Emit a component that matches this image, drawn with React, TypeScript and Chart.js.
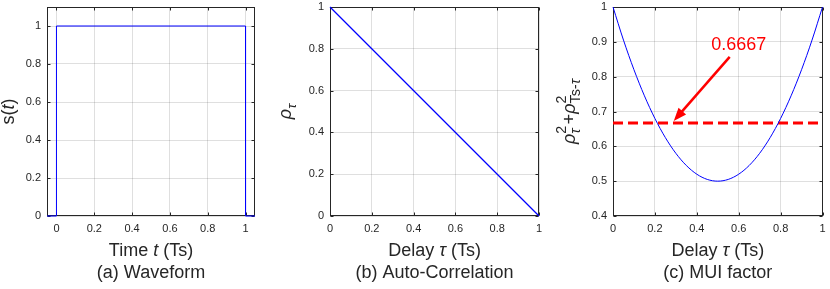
import React, { useEffect, useRef } from "react";
import { Chart, registerables } from "chart.js";

Chart.register(...registerables);

// ---------------- data ----------------
const waveT = [-0.05, 0, 0, 1, 1, 1.05];
const waveS = [0, 0, 1, 1, 0, 0];

const acTau = [0, 1];
const acRho = [1, 0];

const muiTau = [0, 0.05, 0.1, 0.15, 0.2, 0.25, 0.3, 0.35, 0.4, 0.45, 0.5, 0.55, 0.6, 0.65, 0.7, 0.75, 0.8, 0.85, 0.9, 0.95, 1];
const muiVal = [1, 0.905, 0.82, 0.745, 0.68, 0.625, 0.58, 0.545, 0.52, 0.505, 0.5, 0.505, 0.52, 0.545, 0.58, 0.625, 0.68, 0.745, 0.82, 0.905, 1];

const thresholdX = [0, 1];
const thresholdY = [0.6667, 0.6667];
const thresholdLabel = "0.6667";
const arrowTail = [0.557, 0.857];
const arrowTip = [0.29, 0.673];
const labelAt = [0.6, 0.891];

const ticks01 = [0, 0.2, 0.4, 0.6, 0.8, 1];
const ticksMui = [0.4, 0.5, 0.6, 0.7, 0.8, 0.9, 1];

const subtitles = ["(a) Waveform", "(b) Auto-Correlation", "(c) MUI factor"];

// ---------------- styling ----------------
const FONT = "'Liberation Sans', Arial, Helvetica, sans-serif";
const AXIS = "#262626";
const GRID = "rgba(38,38,38,0.15)";
const BLUE = "#0000ff";
const RED = "#ff0000";
const H = 289;
const PLOT_TOP = 7;
const PLOT_BOTTOM = 216;

type Seg = { t: string; italic?: boolean; scale?: number; dy?: number; stack?: boolean };

function segFont(s: Seg, size: number) {
  const sz = size * (s.scale ?? 1);
  return `${s.italic ? "italic " : ""}${sz}px ${FONT}`;
}

function measureRich(ctx: CanvasRenderingContext2D, segs: Seg[], size: number) {
  let w = 0;
  let pending = 0;
  for (const s of segs) {
    ctx.font = segFont(s, size);
    const sw = ctx.measureText(s.t).width;
    if (s.stack) {
      pending = Math.max(pending, sw);
    } else {
      w += Math.max(sw, pending);
      pending = 0;
    }
  }
  return w + pending;
}

function drawRich(ctx: CanvasRenderingContext2D, segs: Seg[], size: number, cx: number, baseline: number, rotate: boolean) {
  ctx.save();
  ctx.fillStyle = AXIS;
  ctx.textBaseline = "alphabetic";
  ctx.textAlign = "left";
  const total = measureRich(ctx, segs, size);
  if (rotate) {
    ctx.translate(baseline, cx);
    ctx.rotate(-Math.PI / 2);
  } else {
    ctx.translate(cx, baseline);
  }
  let x = -total / 2;
  let pending = 0;
  for (const s of segs) {
    ctx.font = segFont(s, size);
    const sw = ctx.measureText(s.t).width;
    ctx.fillText(s.t, x, s.dy ?? 0);
    if (s.stack) {
      pending = Math.max(pending, sw);
    } else {
      x += Math.max(sw, pending);
      pending = 0;
    }
  }
  ctx.restore();
}

type PanelOpts = {
  xTitle: Seg[];
  yTitle: Seg[];
  subtitle: string;
  yTitleBaseline: number;
  xTicks: number[];
  yTicks: number[];
};

const framePlugin = {
  id: "matlabFrame",
  beforeDatasetsDraw(chart: any) {
    const { ctx, chartArea } = chart;
    const o: PanelOpts = chart.options.plugins.matlabFrame;
    const l = Math.round(chartArea.left) + 0.5;
    const r = Math.round(chartArea.right) - 0.5;
    const t = Math.round(chartArea.top) + 0.5;
    const b = Math.round(chartArea.bottom) - 0.5;
    ctx.save();
    ctx.strokeStyle = AXIS;
    ctx.lineWidth = 1;
    ctx.strokeRect(l, t, r - l, b - t);
    const tl = 3;
    ctx.beginPath();
    for (const v of o.xTicks) {
      const px = Math.round(chart.scales.x.getPixelForValue(v)) + 0.5;
      ctx.moveTo(px, b);
      ctx.lineTo(px, b - tl);
      ctx.moveTo(px, t);
      ctx.lineTo(px, t + tl);
    }
    for (const v of o.yTicks) {
      const py = Math.round(chart.scales.y.getPixelForValue(v)) + 0.5;
      ctx.moveTo(l, py);
      ctx.lineTo(l + tl, py);
      ctx.moveTo(r, py);
      ctx.lineTo(r - tl, py);
    }
    ctx.stroke();
    ctx.restore();
  },
  afterDraw(chart: any) {
    const { ctx, chartArea } = chart;
    const o: PanelOpts = chart.options.plugins.matlabFrame;
    const cx = (chartArea.left + chartArea.right) / 2;
    const cy = (chartArea.top + chartArea.bottom) / 2;
    drawRich(ctx, o.xTitle, 18, cx, 256, false);
    drawRich(ctx, [{ t: o.subtitle }], 18, cx, 278, false);
    drawRich(ctx, o.yTitle, 18, cy, o.yTitleBaseline, true);
  },
};

const arrowPlugin = {
  id: "arrowNote",
  afterDatasetsDraw(chart: any) {
    const opt = chart.options.plugins.arrowNote;
    if (!opt || !opt.enabled) return;
    const { ctx, scales } = chart;
    const x0 = scales.x.getPixelForValue(arrowTail[0]);
    const y0 = scales.y.getPixelForValue(arrowTail[1]);
    const x1 = scales.x.getPixelForValue(arrowTip[0]);
    const y1 = scales.y.getPixelForValue(arrowTip[1]);
    const ang = Math.atan2(y1 - y0, x1 - x0);
    const headLen = 13;
    const headW = 5;
    const bx = x1 - headLen * Math.cos(ang);
    const by = y1 - headLen * Math.sin(ang);
    ctx.save();
    ctx.strokeStyle = RED;
    ctx.fillStyle = RED;
    ctx.lineWidth = 2.5;
    ctx.beginPath();
    ctx.moveTo(x0, y0);
    ctx.lineTo(bx + 2 * Math.cos(ang), by + 2 * Math.sin(ang));
    ctx.stroke();
    ctx.beginPath();
    ctx.moveTo(x1, y1);
    ctx.lineTo(bx + headW * Math.sin(ang), by - headW * Math.cos(ang));
    ctx.lineTo(bx - headW * Math.sin(ang), by + headW * Math.cos(ang));
    ctx.closePath();
    ctx.fill();
    ctx.font = `18px ${FONT}`;
    ctx.textAlign = "center";
    ctx.textBaseline = "middle";
    ctx.fillText(thresholdLabel, scales.x.getPixelForValue(labelAt[0]), scales.y.getPixelForValue(labelAt[1]));
    ctx.restore();
  },
};

function tickLabel(v: any) {
  return String(v);
}

type Build = {
  datasets: any[];
  xMin: number;
  xMax: number;
  yMin: number;
  yMax: number;
  xTicks: number[];
  yTicks: number[];
  leftW: number;
  padRight: number;
  frame: PanelOpts;
  arrow?: boolean;
};

function zeroPad(s: any) {
  s.paddingTop = 0;
  s.paddingBottom = 0;
  s.paddingLeft = 0;
  s.paddingRight = 0;
}

function makeConfig(b: Build): any {
  const tickFont = { family: FONT, size: 11 };
  return {
    type: "line",
    data: { datasets: b.datasets },
    plugins: [framePlugin, arrowPlugin],
    options: {
      responsive: false,
      animation: false,
      events: [],
      layout: { padding: { left: 0, right: b.padRight, top: PLOT_TOP, bottom: 0 } },
      plugins: {
        legend: { display: false },
        tooltip: { enabled: false },
        matlabFrame: b.frame,
        arrowNote: { enabled: !!b.arrow },
      },
      scales: {
        x: {
          type: "linear",
          min: b.xMin,
          max: b.xMax,
          afterBuildTicks: (s: any) => {
            s.ticks = b.xTicks.map((v) => ({ value: v }));
          },
          afterFit: (s: any) => {
            s.height = H - PLOT_BOTTOM;
            zeroPad(s);
          },
          grid: { color: GRID, drawTicks: false, lineWidth: 1 },
          border: { display: false },
          ticks: { padding: 6, color: AXIS, font: tickFont, callback: tickLabel, maxRotation: 0, autoSkip: false },
        },
        y: {
          type: "linear",
          min: b.yMin,
          max: b.yMax,
          afterBuildTicks: (s: any) => {
            s.ticks = b.yTicks.map((v) => ({ value: v }));
          },
          afterFit: (s: any) => {
            s.width = b.leftW;
            zeroPad(s);
          },
          grid: { color: GRID, drawTicks: false, lineWidth: 1 },
          border: { display: false },
          ticks: { padding: 6, color: AXIS, font: tickFont, callback: tickLabel, autoSkip: false },
        },
      },
    },
  };
}

function xy(xs: number[], ys: number[]) {
  return xs.map((x, i) => ({ x, y: ys[i] }));
}

function lineDs(xs: number[], ys: number[], color: string, width: number, extra: any = {}) {
  return {
    data: xy(xs, ys),
    borderColor: color,
    backgroundColor: color,
    borderWidth: width,
    pointRadius: 0,
    fill: false,
    tension: 0,
    clip: false,
    ...extra,
  };
}

function Panel({ left, width, build }: { left: number; width: number; build: () => any }) {
  const ref = useRef<HTMLCanvasElement>(null);
  useEffect(() => {
    const chart = new Chart(ref.current as HTMLCanvasElement, build());
    return () => chart.destroy();
  }, []);
  return (
    <div style={{ position: "absolute", left, top: 0, width, height: H }}>
      <canvas ref={ref} width={width} height={H} style={{ width, height: H, display: "block" }} />
    </div>
  );
}

const buildA = () =>
  makeConfig({
    datasets: [lineDs(waveT, waveS, BLUE, 1)],
    xMin: -0.05,
    xMax: 1.05,
    yMin: 0,
    yMax: 1.1,
    xTicks: ticks01,
    yTicks: ticks01,
    leftW: 47,
    padRight: 22,
    frame: {
      xTitle: [{ t: "Time " }, { t: "t", italic: true }, { t: " (Ts)" }],
      yTitle: [{ t: "s(" }, { t: "t", italic: true }, { t: ")" }],
      subtitle: subtitles[0],
      yTitleBaseline: 14,
      xTicks: ticks01,
      yTicks: ticks01,
    },
  });

const buildB = () =>
  makeConfig({
    datasets: [lineDs(acTau, acRho, BLUE, 1.3)],
    xMin: 0,
    xMax: 1,
    yMin: 0,
    yMax: 1,
    xTicks: ticks01,
    yTicks: ticks01,
    leftW: 53,
    padRight: 14,
    frame: {
      xTitle: [{ t: "Delay " }, { t: "τ", italic: true }, { t: " (Ts)" }],
      yTitle: [{ t: "ρ", italic: true }, { t: "τ", italic: true, scale: 0.75, dy: 5 }],
      subtitle: subtitles[1],
      yTitleBaseline: 14,
      xTicks: ticks01,
      yTicks: ticks01,
    },
  });

const buildC = () =>
  makeConfig({
    datasets: [
      lineDs(muiTau, muiVal, BLUE, 1, { cubicInterpolationMode: "monotone" }),
      lineDs(thresholdX, thresholdY, RED, 3, { borderDash: [10, 5] }),
    ],
    xMin: 0,
    xMax: 1,
    yMin: 0.4,
    yMax: 1,
    xTicks: ticks01,
    yTicks: ticksMui,
    leftW: 60,
    padRight: 7.5,
    arrow: true,
    frame: {
      xTitle: [{ t: "Delay " }, { t: "τ", italic: true }, { t: " (Ts)" }],
      yTitle: [
        { t: "ρ", italic: true },
        { t: "2", scale: 0.8, dy: -9, stack: true },
        { t: "τ ", italic: true, scale: 0.8, dy: 5 },
        { t: "+" },
        { t: "ρ", italic: true },
        { t: "2", scale: 0.8, dy: -9, stack: true },
        { t: "Ts-", scale: 0.8, dy: 5 },
        { t: "τ", italic: true, scale: 0.8, dy: 5 },
      ],
      subtitle: subtitles[2],
      yTitleBaseline: 22,
      xTicks: ticks01,
      yTicks: ticksMui,
    },
  });

export default function App() {
  return (
    <div style={{ position: "fixed", left: 0, top: 0, width: 830, height: H, background: "#fff" }}>
      <Panel left={0} width={277} build={buildA} />
      <Panel left={277} width={276} build={buildB} />
      <Panel left={553} width={277} build={buildC} />
    </div>
  );
}
